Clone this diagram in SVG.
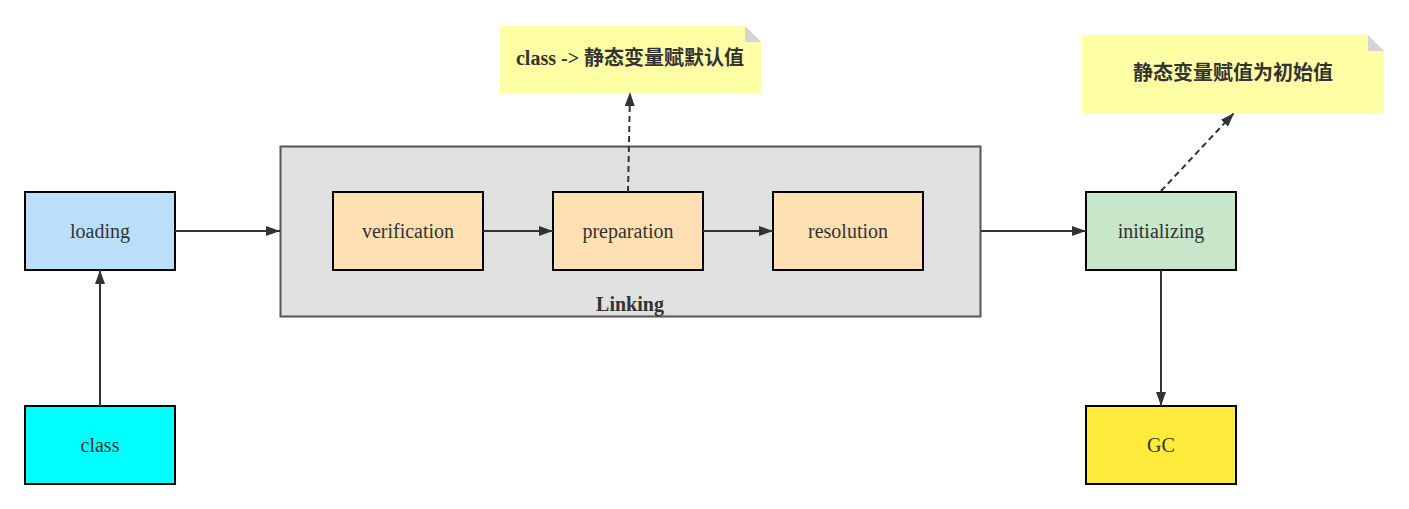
<svg xmlns="http://www.w3.org/2000/svg" width="1409" height="509" viewBox="0 0 1409 509">
<style>
.node{stroke:#000;stroke-width:2}
.lbl{font-family:"Liberation Serif","Noto Serif",serif;font-size:20px;fill:#333;text-anchor:middle;dominant-baseline:central}
.note{fill:#ffffa6}
.fold{fill:#d4d4d4}
.ntxt{font-family:"Liberation Serif","Noto Sans CJK SC",sans-serif;font-size:20px;font-weight:bold;fill:#333;text-anchor:middle;dominant-baseline:central}
.edge{fill:none;stroke:#333;stroke-width:2}
.dash{stroke-dasharray:6 4}
</style>
<defs>
<marker id="ah" viewBox="0 0 10 10" refX="10" refY="5" markerWidth="7" markerHeight="7" orient="auto" markerUnits="userSpaceOnUse">
<path d="M0,0 L10,5 L0,10 z" fill="#333"/>
</marker>
<marker id="ah2" viewBox="0 0 14 10" refX="14" refY="5" markerWidth="14" markerHeight="10" orient="auto" markerUnits="userSpaceOnUse">
<path d="M0,0 L14,5 L0,10 z" fill="#333"/>
</marker>
</defs>
<rect width="1409" height="509" fill="#fff"/>
<g id="linking">
<rect x="280.5" y="146.5" width="700" height="170" fill="#e0e0e0" stroke="#555" stroke-width="2"/>
<text x="630" y="304" class="lbl" font-weight="bold">Linking</text>
</g>
<g id="loading"><rect class="node" x="25" y="192" width="150" height="78" fill="#bbdefb"/><text x="100" y="231" class="lbl">loading</text></g>
<g id="class"><rect class="node" x="25" y="406" width="150" height="78" fill="#00ffff"/><text x="100" y="445" class="lbl">class</text></g>
<g id="verification"><rect class="node" x="333" y="192" width="150" height="78" fill="#ffe0b2"/><text x="408" y="231" class="lbl">verification</text></g>
<g id="preparation"><rect class="node" x="553" y="192" width="150" height="78" fill="#ffe0b2"/><text x="628" y="231" class="lbl">preparation</text></g>
<g id="resolution"><rect class="node" x="773" y="192" width="150" height="78" fill="#ffe0b2"/><text x="848" y="231" class="lbl">resolution</text></g>
<g id="initializing"><rect class="node" x="1086" y="192" width="150" height="78" fill="#c8e6c9"/><text x="1161" y="231" class="lbl">initializing</text></g>
<g id="gc"><rect class="node" x="1086" y="406" width="150" height="78" fill="#ffeb3b"/><text x="1161" y="445" class="lbl">GC</text></g>
<g id="note1">
<path class="note" d="M500,26 H745 L761,42 V93 H500 Z"/>
<path class="fold" d="M745,26 L761,42 H745 Z"/>
<text x="630" y="58" class="ntxt">class -&gt; 静态变量赋默认值</text>
</g>
<g id="note2">
<path class="note" d="M1082,35 H1368 L1384,51 V113 H1082 Z"/>
<path class="fold" d="M1368,35 L1384,51 H1368 Z"/>
<text x="1233" y="73" class="ntxt">静态变量赋值为初始值</text>
</g>
<g id="connectors">
<path class="edge" d="M175,231 H280" marker-end="url(#ah2)"/>
<path class="edge" d="M483,231 H553" marker-end="url(#ah2)"/>
<path class="edge" d="M703,231 H773" marker-end="url(#ah2)"/>
<path class="edge" d="M981,231 H1086" marker-end="url(#ah2)"/>
<path class="edge" d="M100,406 V270" marker-end="url(#ah2)"/>
<path class="edge" d="M1161,270 V406" marker-end="url(#ah2)"/>
<path class="edge dash" d="M628,192 L630,92" marker-end="url(#ah2)"/>
<path class="edge dash" d="M1161,191 L1234,113" marker-end="url(#ah2)"/>
</g>
</svg>
